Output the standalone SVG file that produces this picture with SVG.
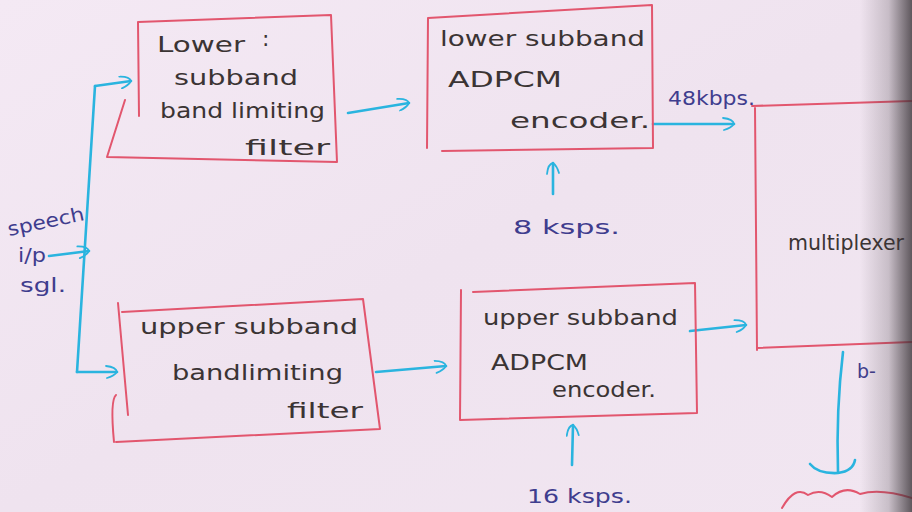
<svg xmlns="http://www.w3.org/2000/svg" width="912" height="512" viewBox="0 0 912 512">
  <defs>
    <linearGradient id="paper" x1="0" y1="0" x2="1" y2="1">
      <stop offset="0" stop-color="#f4e9f4"/>
      <stop offset="0.5" stop-color="#efe3ef"/>
      <stop offset="1" stop-color="#f1e6f1"/>
    </linearGradient>
    <linearGradient id="edge" x1="0" y1="0" x2="1" y2="0">
      <stop offset="0" stop-color="#3a3438" stop-opacity="0"/>
      <stop offset="0.55" stop-color="#3a3438" stop-opacity="0.22"/>
      <stop offset="1" stop-color="#3a3438" stop-opacity="0.8"/>
    </linearGradient>
    <marker id="head" viewBox="0 0 14 14" refX="12" refY="7" markerWidth="14" markerHeight="14" markerUnits="userSpaceOnUse" orient="auto">
      <path d="M1,1 Q11,2 12,7 Q9,11 2,13" fill="none" stroke="#2ab4df" stroke-width="1.8" stroke-linecap="round"/>
    </marker>
  </defs>
  <style>
    .box { fill: none; stroke: #e2566e; stroke-width: 2; stroke-linecap: round; stroke-linejoin: round; }
    .wire { fill: none; stroke: #2ab4df; stroke-width: 2.6; stroke-linecap: round; stroke-linejoin: round; }
    .txt { font-family: "DejaVu Sans", "Liberation Sans", sans-serif; font-size: 22px; fill: #3b3434; }
    .lbl { font-family: "DejaVu Sans", "Liberation Sans", sans-serif; font-size: 19px; fill: #3f3d8e; }
  </style>

  <!-- paper -->
  <rect x="0" y="0" width="912" height="512" fill="url(#paper)"/>

  <!-- connectors -->
  <g id="connectors">
    <!-- speech input trunk and branches -->
    <path class="wire" d="M95,86 L77,372"/>
    <path class="wire" d="M95,86 L131,81" marker-end="url(#head)"/>
    <path class="wire" d="M77,372 L117,372" marker-end="url(#head)"/>
    <path class="wire" d="M49,256 L89,251" marker-end="url(#head)"/>
    <!-- lower path -->
    <path class="wire" d="M348,113 L409,103" marker-end="url(#head)"/>
    <path class="wire" d="M653,124 L734,124" marker-end="url(#head)"/>
    <path class="wire" d="M553,194 L553,163" marker-end="url(#head)"/>
    <!-- upper path -->
    <path class="wire" d="M376,372 L446,366" marker-end="url(#head)"/>
    <path class="wire" d="M690,331 L746,325" marker-end="url(#head)"/>
    <path class="wire" d="M572,465 L573,425" marker-end="url(#head)"/>
    <!-- multiplexer output -->
    <path class="wire" d="M843,352 Q836,410 838,472"/>
    <path class="wire" d="M810,464 Q818,474 838,473 Q853,471 855,460"/>
  </g>

  <!-- input label -->
  <g id="speech-input">
    <text class="lbl" x="9" y="236" textLength="78" lengthAdjust="spacingAndGlyphs" transform="rotate(-12 9 236)">speech</text>
    <text class="lbl" x="18" y="262" textLength="28" lengthAdjust="spacingAndGlyphs">i/p</text>
    <text class="lbl" x="20" y="292" textLength="46" lengthAdjust="spacingAndGlyphs">sgl.</text>
  </g>

  <g id="lower-filter">
    <path class="box" d="M139,116 L138,22 L331,15 L337,162 L107,157 L125,100"/>
    <text class="txt" x="157" y="52" textLength="88" lengthAdjust="spacingAndGlyphs">Lower</text>
    <text class="txt" x="262" y="46">:</text>
    <text class="txt" x="174" y="85" textLength="124" lengthAdjust="spacingAndGlyphs">subband</text>
    <text class="txt" x="160" y="118" textLength="165" lengthAdjust="spacingAndGlyphs">band limiting</text>
    <text class="txt" x="245" y="155" textLength="85" lengthAdjust="spacingAndGlyphs">filter</text>
  </g>

  <g id="lower-encoder">
    <path class="box" d="M427,148 L428,18 L652,5 L653,148 L442,151"/>
    <text class="txt" x="440" y="46" textLength="205" lengthAdjust="spacingAndGlyphs">lower subband</text>
    <text class="txt" x="448" y="87" textLength="114" lengthAdjust="spacingAndGlyphs">ADPCM</text>
    <text class="txt" x="510" y="128" textLength="140" lengthAdjust="spacingAndGlyphs">encoder.</text>
    <text class="lbl" x="668" y="105" textLength="87" lengthAdjust="spacingAndGlyphs">48kbps.</text>
    <text class="lbl" x="513" y="234" textLength="107" lengthAdjust="spacingAndGlyphs">8 ksps.</text>
  </g>

  <g id="upper-filter">
    <path class="box" d="M122,312 L363,299 L380,429 L116,442"/>
    <path class="box" d="M118,303 L128,415"/>
    <path class="box" d="M116,395 Q110,400 114,442"/>
    <text class="txt" x="140" y="334" textLength="218" lengthAdjust="spacingAndGlyphs">upper subband</text>
    <text class="txt" x="172" y="380" textLength="171" lengthAdjust="spacingAndGlyphs">bandlimiting</text>
    <text class="txt" x="287" y="418" textLength="76" lengthAdjust="spacingAndGlyphs">filter</text>
  </g>

  <g id="upper-encoder">
    <path class="box" d="M473,292 L695,283 L697,413 L460,420 L461,290"/>
    <text class="txt" x="483" y="325" textLength="195" lengthAdjust="spacingAndGlyphs">upper subband</text>
    <text class="txt" x="491" y="370" textLength="97" lengthAdjust="spacingAndGlyphs">ADPCM</text>
    <text class="txt" x="552" y="397" textLength="104" lengthAdjust="spacingAndGlyphs">encoder.</text>
    <text class="lbl" x="527" y="503" textLength="105" lengthAdjust="spacingAndGlyphs">16 ksps.</text>
  </g>

  <g id="multiplexer">
    <path class="box" d="M752,106 L912,101"/>
    <path class="box" d="M755,108 L757,350"/>
    <path class="box" d="M757,348 L912,342"/>
    <text class="txt" x="788" y="250" textLength="116" lengthAdjust="spacingAndGlyphs">multiplexer</text>
    <text class="lbl" x="857" y="378">b-</text>
  </g>

  <!-- next stage, partly shown at the bottom edge -->
  <path class="box" d="M782,508 Q795,485 808,495 Q820,488 832,497 Q845,485 860,494 Q880,488 912,498"/>

  <!-- shading along the page's right edge -->
  <rect x="860" y="0" width="52" height="512" fill="url(#edge)"/>
</svg>
